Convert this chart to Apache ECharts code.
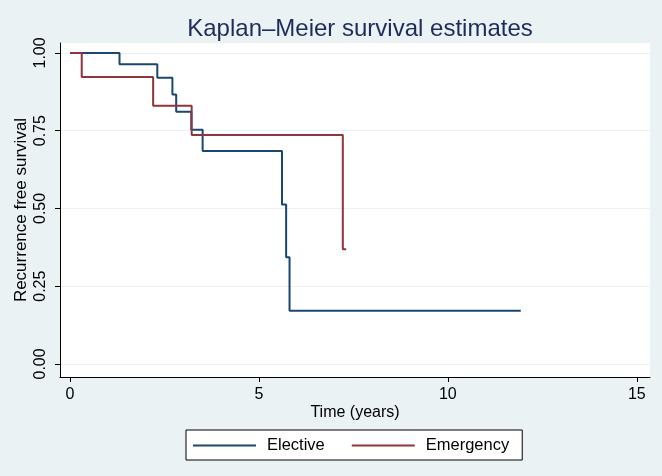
<!DOCTYPE html>
<html>
<head>
<meta charset="utf-8">
<script src="https://cdn.jsdelivr.net/npm/echarts@6/dist/echarts.min.js"></script>
<style>
html,body{margin:0;padding:0;background:#eaf2f3;}
#chart{width:662px;height:476px;}
</style>
</head>
<body>
<div id="chart"></div>
<script>
// Data
const electiveTime = [0, 1.31, 2.31, 2.71, 2.81, 3.21, 3.51, 5.61, 5.72, 5.81, 11.93];
const electiveSurv = [1.0, 0.964, 0.920, 0.866, 0.811, 0.753, 0.685, 0.513, 0.343, 0.171, 0.171];
const emergencyTime = [0, 0.31, 2.20, 3.22, 7.22, 7.31];
const emergencySurv = [1.0, 0.923, 0.830, 0.736, 0.369, 0.369];
const xTicks = [0, 5, 10, 15];
const yTicks = [0, 0.25, 0.5, 0.75, 1.0];
const seriesNames = ['Elective', 'Emergency'];

const font = 'Liberation Sans, Arial, sans-serif';
const pairs = (t, s) => t.map((v, i) => [v, s[i]]);

const chart = echarts.init(document.getElementById('chart'), null, {renderer: 'canvas'});
chart.setOption({
  backgroundColor: '#eaf2f3',
  animation: false,
  title: {
    text: 'Kaplan–Meier survival estimates',
    left: 355,
    textAlign: 'center',
    top: 12,
    textStyle: {color: '#1e2b5c', fontSize: 24, fontWeight: 'normal', fontFamily: font}
  },
  grid: {left: 60, right: 12, top: 43, bottom: 99, show: true, backgroundColor: '#ffffff', borderWidth: 0},
  legend: {
    data: seriesNames,
    left: 186,
    top: 430,
    padding: [7, 13, 6, 7],
    itemGap: 27,
    itemWidth: 63,
    itemHeight: 2,
    icon: 'rect',
    borderColor: '#000',
    borderWidth: 1,
    borderRadius: 0,
    backgroundColor: '#ffffff',
    textStyle: {color: '#000', fontSize: 16.5, fontFamily: font, padding: [0, 0, 0, 6]}
  },
  xAxis: {
    type: 'value',
    min: -0.265,
    max: 15.35,
    name: 'Time (years)',
    nameLocation: 'middle',
    nameGap: 28,
    nameMoveOverlap: false,
    nameTextStyle: {color: '#000', fontSize: 16, fontFamily: font, verticalAlign: 'top'},
    axisLine: {show: true, onZero: false, lineStyle: {color: '#000', width: 1}},
    axisTick: {show: true, length: 5, customValues: xTicks, lineStyle: {color: '#000'}},
    axisLabel: {customValues: xTicks, color: '#000', fontSize: 16, fontFamily: font, margin: 10},
    splitLine: {show: false}
  },
  yAxis: {
    type: 'value',
    min: -0.042,
    max: 1.032,
    name: 'Recurrence free survival',
    nameLocation: 'middle',
    nameGap: 30,
    nameMoveOverlap: false,
    nameRotate: 90,
    nameTextStyle: {color: '#000', fontSize: 17, fontFamily: font},
    axisLine: {show: true, onZero: false, lineStyle: {color: '#000', width: 1}},
    axisTick: {show: true, length: 5, customValues: yTicks, lineStyle: {color: '#000'}},
    axisLabel: {
      customValues: yTicks, rotate: 90, color: '#000', fontSize: 16, fontFamily: font, margin: 11,
      formatter: v => v.toFixed(2)
    },
    splitLine: {show: true, lineStyle: {color: '#eaf2f3', width: 1}}
  },
  series: [
    {
      name: seriesNames[0], type: 'line', step: 'end', symbol: 'none',
      data: pairs(electiveTime, electiveSurv),
      lineStyle: {color: '#1a476f', width: 2}, itemStyle: {color: '#1a476f'}
    },
    {
      name: seriesNames[1], type: 'line', step: 'end', symbol: 'none',
      data: pairs(emergencyTime, emergencySurv),
      lineStyle: {color: '#90353b', width: 2}, itemStyle: {color: '#90353b'}
    }
  ]
});
</script>
</body>
</html>
